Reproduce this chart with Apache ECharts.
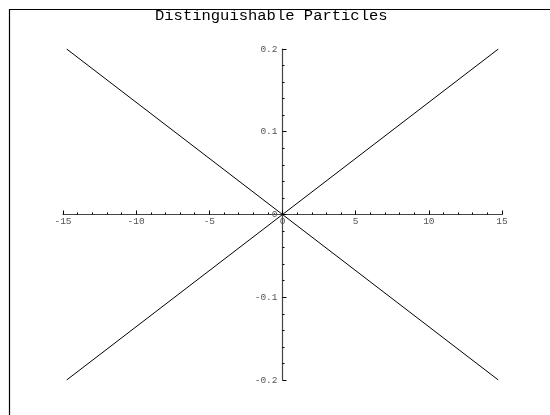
<!DOCTYPE html>
<html>
<head>
    <meta charset="utf-8">
    <title>Distinguishable Particles</title>
    <style>
        html, body { margin: 0; padding: 0; background: #fff; }
    </style>
</head>
<body>
<div id="main" style="width: 550px;height:415px;"></div>

<script type="text/javascript" src="https://cdn.jsdelivr.net/npm/echarts@6/dist/echarts.min.js"></script>
<script type="text/javascript">
    // 数据
    var titleText = 'Distinguishable Particles';
    var xRange = [-15, 15];
    var yRange = [-0.2, 0.2];
    var lineDown = [[-14.75, 0.2], [0, 0], [14.75, -0.2]];
    var lineUp = [[-14.75, -0.2], [0, 0], [14.75, 0.2]];

    var myChart = echarts.init(document.getElementById('main'));
    var labelFont = {
        fontFamily: 'Liberation Mono',
        fontSize: 9.5,
        color: '#555'
    };
    // 坐标轴在原点相交（用offset把轴移到0处）
    var gridLeft = 63, gridTop = 49, gridW = 439, gridH = 331;
    var xZeroOffset = -gridH * (0 - yRange[0]) / (yRange[1] - yRange[0]);
    var yZeroOffset = -gridW * (0 - xRange[0]) / (xRange[1] - xRange[0]);
    var option = {
        animation: false,
        backgroundColor: '#fff',
        title: {
            text: titleText,
            left: 155,
            top: 8,
            padding: 0,
            textStyle: {
                fontFamily: 'Liberation Mono',
                fontSize: 15.5,
                fontWeight: 'normal',
                color: '#000'
            }
        },
        graphic: [{
            type: 'rect',
            shape: { x: 9.5, y: 9.5, width: 700, height: 600 },
            style: { fill: 'none', stroke: '#000', lineWidth: 1.2 },
            silent: true
        }],
        grid: {
            left: gridLeft,
            top: gridTop,
            width: gridW,
            height: gridH
        },
        xAxis: {
            type: 'value',
            min: xRange[0],
            max: xRange[1],
            interval: 5,
            offset: xZeroOffset,
            splitLine: { show: false },
            axisLine: {
                onZero: false,
                lineStyle: { color: '#444', width: 1.2 }
            },
            axisTick: {
                inside: true,
                length: 4,
                lineStyle: { color: '#000' }
            },
            minorTick: {
                show: true,
                splitNumber: 5,
                length: 2,
                lineStyle: { color: '#000' }
            },
            axisLabel: Object.assign({ margin: 2 }, labelFont)
        },
        yAxis: {
            type: 'value',
            min: yRange[0],
            max: yRange[1],
            interval: 0.1,
            offset: yZeroOffset,
            splitLine: { show: false },
            axisLine: {
                onZero: false,
                lineStyle: { color: '#444', width: 1.2 }
            },
            axisTick: {
                inside: true,
                length: 4,
                lineStyle: { color: '#000' }
            },
            minorTick: {
                show: true,
                splitNumber: 5,
                length: 2,
                lineStyle: { color: '#000' }
            },
            axisLabel: Object.assign({ margin: 5 }, labelFont)
        },
        series: [{
            type: 'line',
            data: lineDown,
            symbol: 'none',
            lineStyle: { color: '#000', width: 1 }
        }, {
            type: 'line',
            data: lineUp,
            symbol: 'none',
            lineStyle: { color: '#000', width: 1 }
        }]
    };
    myChart.setOption(option);
</script>
</body>
</html>
